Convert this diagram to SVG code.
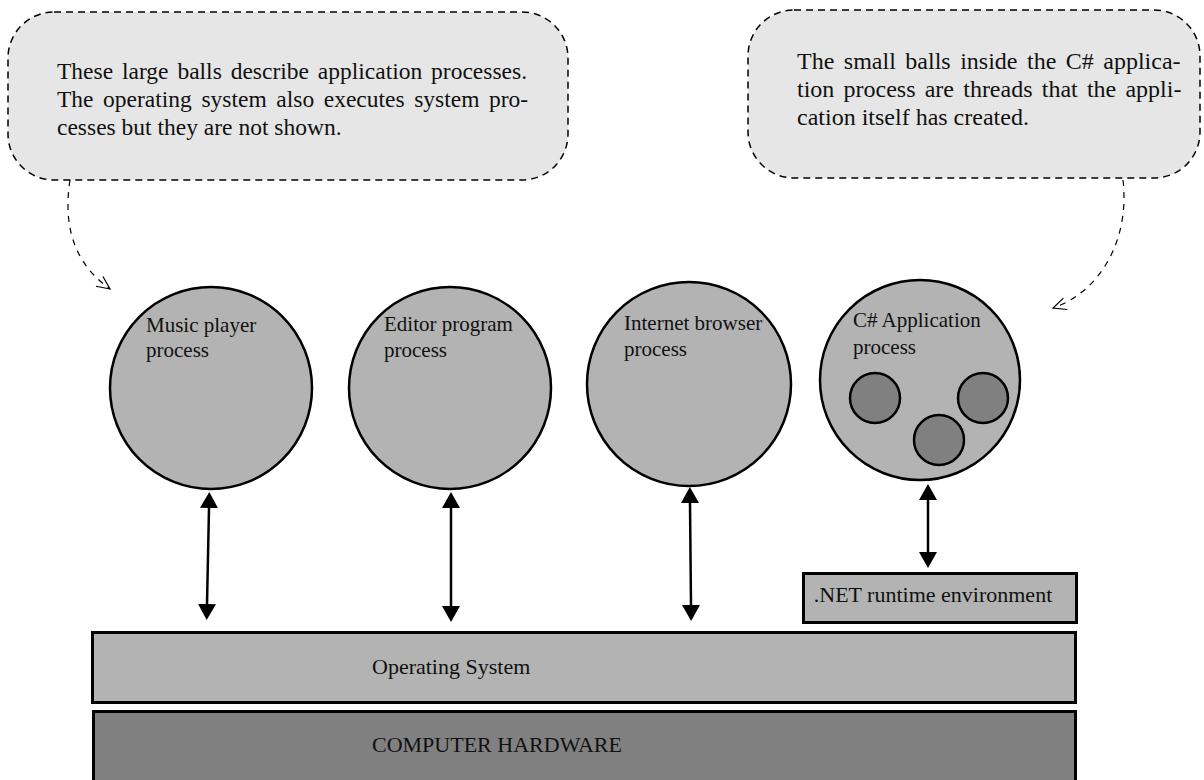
<svg xmlns="http://www.w3.org/2000/svg" width="1204" height="780" viewBox="0 0 1204 780">
<defs>
<style>
text{font-family:"Liberation Serif","Times New Roman",serif;font-size:22px;fill:#111}
.lbl{font-size:21px}
.ct{font-size:23.5px}
.ct2{font-size:24px}
.callout{fill:#e6e6e6;stroke:#000;stroke-width:1.5;stroke-dasharray:7 5}
.ball{fill:#b3b3b3;stroke:#000;stroke-width:2.5}
.thread{fill:#808080;stroke:#000;stroke-width:2.5}
.layer{stroke:#000;stroke-width:3}
.dbl{stroke:#000;stroke-width:2.5;fill:none;marker-start:url(#solid);marker-end:url(#solid)}
.note{stroke:#000;stroke-width:1.2;fill:none;stroke-dasharray:6 6;marker-end:url(#open)}
</style>
<marker id="solid" markerUnits="userSpaceOnUse" markerWidth="16" markerHeight="18" viewBox="0 0 16 18" refX="0" refY="9" orient="auto-start-reverse">
<path d="M0,0 L16,9 L0,18 Z" fill="#000"/>
</marker>
<marker id="open" markerUnits="userSpaceOnUse" markerWidth="16" markerHeight="14" viewBox="0 0 16 14" refX="14" refY="7" orient="auto">
<path d="M1,1 L14,7 L1,13" fill="none" stroke="#000" stroke-width="1.2"/>
</marker>
</defs>
<rect width="1204" height="780" fill="#fff"/>

<g id="note-processes">
<rect class="callout" x="8" y="12" width="560" height="168" rx="46" ry="46"/>
<text class="ct" x="57" y="79" word-spacing="3">These large balls describe application processes.</text>
<text class="ct" x="57" y="107" word-spacing="3.7">The operating system also executes system pro-</text>
<text class="ct" x="57" y="135">cesses but they are not shown.</text>
</g>

<g id="note-threads">
<rect class="callout" x="748" y="10" width="452" height="168" rx="46" ry="46"/>
<text class="ct2" x="797" y="69" word-spacing="3.5">The small balls inside the C# applica-</text>
<text class="ct2" x="797" y="97" word-spacing="3.2">tion process are threads that the appli-</text>
<text class="ct2" x="797" y="125">cation itself has created.</text>
</g>

<g id="music-player">
<circle class="ball" cx="211" cy="388" r="101"/>
<text class="lbl" x="146" y="332">Music player</text>
<text class="lbl" x="146" y="357">process</text>
</g>

<g id="editor-program">
<circle class="ball" cx="450" cy="388" r="101"/>
<text class="lbl" x="384" y="331">Editor program</text>
<text class="lbl" x="384" y="357">process</text>
</g>

<g id="internet-browser">
<circle class="ball" cx="689" cy="384" r="102"/>
<text class="lbl" x="624" y="330">Internet browser</text>
<text class="lbl" x="624" y="356">process</text>
</g>

<g id="csharp-app">
<circle class="ball" cx="920" cy="380" r="100"/>
<text class="lbl" x="853" y="327">C# Application</text>
<text class="lbl" x="853" y="354">process</text>
<circle class="thread" cx="875" cy="398" r="25"/>
<circle class="thread" cx="983" cy="398" r="25"/>
<circle class="thread" cx="939" cy="440" r="25"/>
</g>

<g id="dotnet-runtime">
<rect class="layer" x="803.5" y="573.5" width="273" height="49" fill="#b3b3b3"/>
<text x="933" y="602" text-anchor="middle">.NET runtime environment</text>
</g>

<g id="operating-system">
<rect class="layer" x="92.5" y="632.5" width="983" height="70" fill="#b3b3b3"/>
<text x="372" y="674">Operating System</text>
</g>

<g id="computer-hardware">
<rect class="layer" x="93.5" y="711.5" width="982" height="80" fill="#808080"/>
<text x="372" y="752">COMPUTER HARDWARE</text>
</g>

<g id="connectors">
<line class="dbl" x1="209" y1="508" x2="207" y2="604"/>
<line class="dbl" x1="451" y1="508" x2="451" y2="606"/>
<line class="dbl" x1="690" y1="503" x2="691" y2="605"/>
<line class="dbl" x1="928" y1="500" x2="928" y2="552"/>
<path class="note" d="M70 180 C62 232, 78 266, 110 289"/>
<path class="note" d="M1123 180 C1130 240, 1100 292, 1053 308"/>
</g>
</svg>
